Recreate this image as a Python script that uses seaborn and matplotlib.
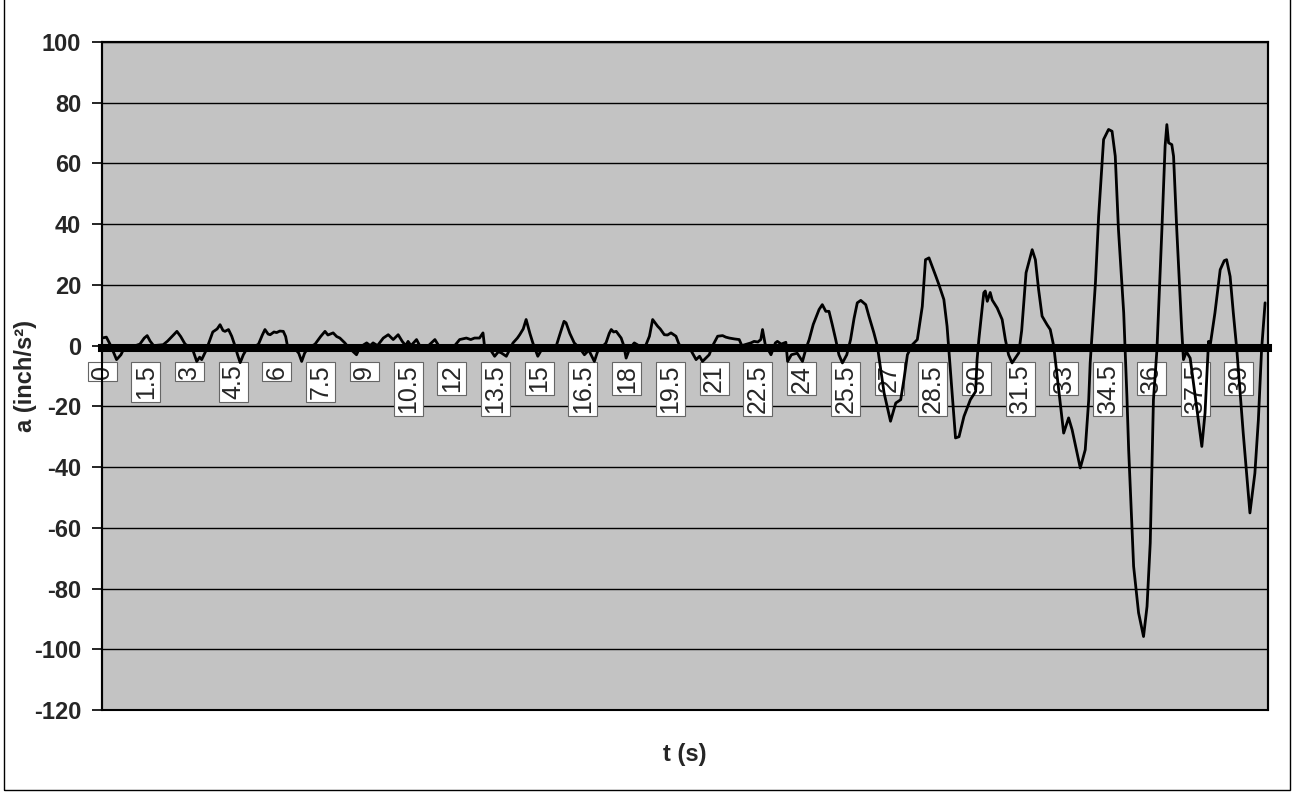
import numpy as np
import pandas as pd
import matplotlib
matplotlib.use("Agg")
import matplotlib.pyplot as plt
from matplotlib.patches import Rectangle
import seaborn as sns

# ---- data ----
t_s = [0.0, 0.15, 0.3, 0.5, 0.65, 0.75, 1.0, 1.3, 1.45, 1.55, 1.65, 1.77, 2.1, 2.25, 2.45, 2.57, 2.7, 2.85,
       3.1, 3.25, 3.35, 3.42, 3.55, 3.65, 3.8, 3.95, 4.05, 4.15, 4.22, 4.34, 4.45, 4.56, 4.65, 4.74, 4.85, 4.97,
       5.2, 5.37, 5.5, 5.59, 5.7, 5.77, 5.9, 5.99, 6.1, 6.22, 6.3, 6.36, 6.6, 6.75, 6.85, 6.95, 7.05, 7.31,
       7.5, 7.65, 7.75, 7.93, 8.05, 8.16, 8.33, 8.45, 8.73, 8.85, 9.08, 9.2, 9.3, 9.45, 9.65, 9.82, 9.99,
       10.16, 10.3, 10.42, 10.5, 10.6, 10.79, 10.9, 11.2, 11.42, 11.55, 12.1, 12.27, 12.5, 12.65, 12.78,
       12.95, 13.07, 13.12, 13.3, 13.47, 13.6, 13.7, 13.87, 14.0, 14.1, 14.25, 14.33, 14.45, 14.55, 14.68,
       14.78, 14.95, 15.1, 15.24, 15.45, 15.58, 15.7, 15.85, 15.92, 16.05, 16.2, 16.4, 16.55, 16.7, 16.89,
       17.0, 17.15, 17.29, 17.4, 17.47, 17.55, 17.64, 17.81, 17.9, 17.98, 18.1, 18.26, 18.5, 18.65, 18.78,
       18.89, 19.06, 19.15, 19.29, 19.4, 19.52, 19.69, 19.8, 20.0, 20.2, 20.38, 20.5, 20.6, 20.83, 20.95,
       21.12, 21.29, 21.4, 21.52, 21.7, 21.86, 21.95, 22.26, 22.37, 22.5, 22.6, 22.66, 22.75, 22.95, 23.1,
       23.17, 23.3, 23.46, 23.52, 23.65, 23.85, 24.03, 24.15, 24.26, 24.4, 24.6, 24.71, 24.83, 24.94, 25.05,
       25.17, 25.28, 25.4, 25.55, 25.68, 25.8, 25.91, 26.03, 26.2, 26.31, 26.48, 26.6, 26.83, 27.05, 27.23,
       27.4, 27.51, 27.63, 27.8, 27.97, 28.14, 28.25, 28.37, 28.48, 28.6, 28.71, 28.88, 28.99, 29.05, 29.17,
       29.28, 29.4, 29.57, 29.79, 29.97, 30.02, 30.08, 30.25, 30.3, 30.37, 30.47, 30.54, 30.71, 30.88, 30.99,
       31.1, 31.22, 31.45, 31.55, 31.7, 31.91, 32.02, 32.13, 32.25, 32.42, 32.53, 32.65, 32.82, 32.99, 33.16,
       33.28, 33.56, 33.73, 33.85, 33.9, 34.08, 34.19, 34.36, 34.53, 34.65, 34.76, 34.87, 35.05, 35.16, 35.22,
       35.39, 35.56, 35.73, 35.85, 35.96, 36.07, 36.19, 36.36, 36.47, 36.53, 36.59, 36.7, 36.76, 36.87, 37.04,
       37.1, 37.2, 37.33, 37.61, 37.73, 37.84, 37.93, 37.96, 38.0, 38.18, 38.36, 38.5, 38.58, 38.7, 38.81,
       38.93, 39.15, 39.38, 39.55, 39.67, 39.78, 39.9]
a_inch_s2 = [2.5, 2.8, 0, -4.6, -3, -1, -0.5, 0.5, 2.5, 3.3, 1.5, 0, 0.3, 1.5, 3.5, 4.7, 3, 0.5,
             -1, -5.2, -3.8, -4.6, -2, 0.5, 4.5, 5.5, 6.9, 5, 4.7, 5.3, 3.1, 0, -3, -5.6, -3, -1,
             -0.5, 0.5, 3.5, 5.3, 3.8, 3.6, 4.5, 4.3, 4.8, 4.7, 3, 0, -0.8, -2.5, -5.2, -2.5, -1, 0.5,
             3, 4.7, 3.5, 4.2, 3, 2.5, 0.9, -0.5, -3, -0.5, 0.9, 0, 0.9, 0, 2.5, 3.6, 2,
             3.6, 1.4, 0, 1.4, 0, 2, 0, 0, 2, 0, 0, 2, 2.5, 2, 2.5,
             2.5, 4.2, 0, -1, -3.5, -2, -2.4, -3.5, -1, 0.9, 2.5, 3.6, 5.5, 8.6, 4,
             0.9, -3.5, -1, -0.2, 0, -0.2, 3.5, 8, 7.5, 4, 0.9, -1, -3, -1.5, -5.2,
             -2, -0.5, 0.9, 4, 5.3, 4.5, 4.7, 2.5, 0, -4.1, -1, 0.9, -0.5, 0, 3.1,
             8.6, 6.4, 5.5, 3.6, 3.5, 4.2, 3.1, 0.3, -0.5, -1.5, -4.6, -3.5, -5.2, -3, 0,
             3.1, 3.3, 2.8, 2.5, 2.2, 2, 0, 0.9, 1.4, 1.2, 2, 5.3, 0.5, -3, 0.9,
             1.4, 0.5, 1.1, -5.2, -3, -2.5, -5.2, -1, 2, 7, 11.9, 13.5, 11.3, 11.3, 7,
             2, -3, -5.7, -3, 2, 9, 14.1, 14.9, 13.5, 9.7, 4.2, -0.2, -15.6, -24.9, -18.9,
             -17.8, -11.2, -3, 0.3, 2, 12.9, 28.3, 28.9, 26.1, 23, 20.1, 15.2, 6.4, -1.3, -16.7,
             -30.4, -30, -23.3, -17.8, -15.1, -4.6, 2, 17.4, 18, 14.6, 17.5, 15, 12.4, 8.6, 2,
             -3, -5.7, -2.4, 5, 24, 31.6, 28.3, 18.5, 9.7, 6.9, 5.3, -0.2, -14.5, -28.8, -23.8,
             -27.7, -40.3, -34.3, -17.8, -5.7, 20.7, 42.6, 67.9, 71.2, 70.6, 62.4, 38.2, 10.8, -16.7, -34.3,
             -72.7, -88, -95.8, -85.9, -65, -17.8, -1.3, 38.2, 65.7, 72.8, 66.8, 66.2, 62.4, 38.2, 5.3,
             -4.6, -2, -4.1, -24.4, -33.2, -22.2, -5, 1.4, -1, 10.8, 25, 28, 28.3, 22.8, 10.8,
             -1.3, -28.8, -55.1, -42, -24.4, -1.3, 14.1]

x_ticks = [0, 1.5, 3, 4.5, 6, 7.5, 9, 10.5, 12, 13.5, 15, 16.5, 18, 19.5, 21, 22.5, 24,
           25.5, 27, 28.5, 30, 31.5, 33, 34.5, 36, 37.5, 39]
x_tick_labels = ["0", "1.5", "3", "4.5", "6", "7.5", "9", "10.5", "12", "13.5", "15", "16.5", "18",
                 "19.5", "21", "22.5", "24", "25.5", "27", "28.5", "30", "31.5", "33", "34.5", "36",
                 "37.5", "39"]
y_ticks = [-120, -100, -80, -60, -40, -20, 0, 20, 40, 60, 80, 100]

df = pd.DataFrame({"t": t_s, "a": a_inch_s2})

sns.set_theme(style="white")
plt.rcParams["font.family"] = ["Liberation Sans", "DejaVu Sans"]

W, H = 1298, 800
fig = plt.figure(figsize=(W / 100, H / 100), dpi=100)
fig.patch.set_facecolor("white")
ax = fig.add_axes([102 / W, 1 - 710 / H, (1268 - 102) / W, (710 - 42) / H])
ax.set_facecolor("#c3c3c3")
ax.set_axisbelow(False)

# horizontal gridlines
for yv in y_ticks:
    ax.axhline(yv, color="black", lw=1.0, zorder=1)

sns.lineplot(data=df, x="t", y="a", color="black", lw=2.0, ax=ax,
             estimator=None, sort=False, zorder=3)

ax.set_xlim(0, 40)
ax.set_ylim(-120, 100)

# category axis crossing at zero, drawn thick
ax.spines["bottom"].set_position(("data", -0.8))
ax.spines["bottom"].set_linewidth(5.8)
ax.spines["bottom"].set_color("black")
ax.spines["bottom"].set_zorder(4)
for s in ["left", "top", "right"]:
    ax.spines[s].set_visible(True)
    ax.spines[s].set_color("black")
    ax.spines[s].set_linewidth(1.5)
ax.add_patch(Rectangle((0, 0), 1, 1, transform=ax.transAxes, fill=False,
                       ec="black", lw=1.5, zorder=5, clip_on=False))

ax.set_xticks(x_ticks)
ax.set_xticklabels(x_tick_labels, rotation=90, fontsize=18, va="top", ha="center",
                   bbox=dict(boxstyle="square,pad=0.1", fc="white", ec="#666666", lw=0.8))
ax.tick_params(axis="x", length=0, pad=12)

ax.set_yticks(y_ticks)
ax.set_yticklabels([str(v) for v in y_ticks], fontsize=17, fontweight="bold")
ax.tick_params(axis="y", left=True, length=7, width=1.2, color="black", pad=8, direction="out")

ax.set_ylabel("a (inch/s²)", fontsize=17, fontweight="bold")
ax.yaxis.set_label_coords(-0.056, 0.5)
ax.set_xlabel("t (s)", fontsize=17, fontweight="bold")
ax.xaxis.set_label_coords(0.5, -0.049)

# chart-area border
fig.add_artist(Rectangle((4 / W, 10 / H), (1290 - 4) / W, 1.2, transform=fig.transFigure,
                         fill=False, ec="black", lw=1.0))

fig.savefig("out.png", dpi=100, facecolor="white")
